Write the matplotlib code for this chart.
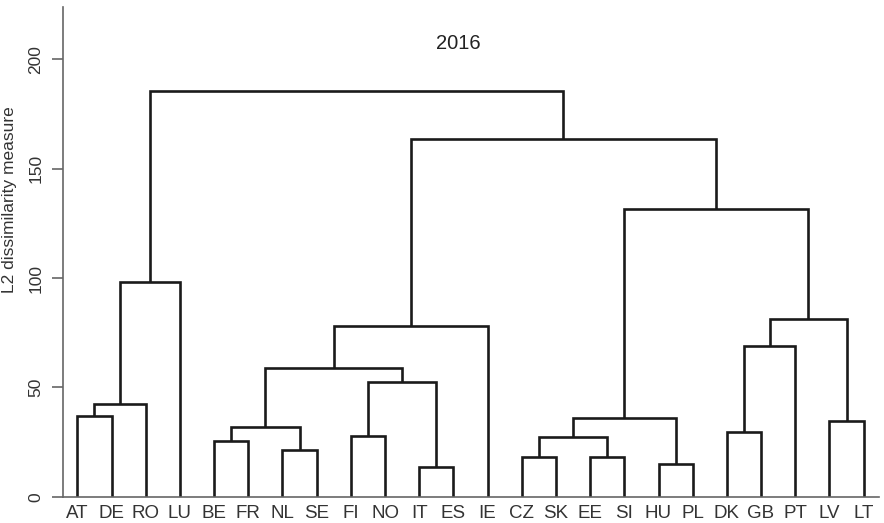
import matplotlib
matplotlib.use("Agg")
import matplotlib.pyplot as plt

plt.rcParams["font.family"] = ["Liberation Sans", "DejaVu Sans"]

# countries in leaf order
countries = ["AT", "DE", "RO", "LU", "BE", "FR", "NL", "SE", "FI", "NO", "IT", "ES", "IE",
             "CZ", "SK", "EE", "SI", "HU", "PL", "DK", "GB", "PT", "LV", "LT"]

# merge steps: node ids < 24 are leaves, node 24 + k is the cluster made at step k
merge_left = [0, 24, 25, 4, 6, 27, 8, 10, 30, 29, 33, 13, 15, 35, 17, 37, 19, 40, 22, 41, 39, 34, 26]
merge_right = [1, 2, 3, 5, 7, 28, 9, 11, 31, 32, 12, 14, 16, 36, 18, 38, 20, 21, 23, 42, 43, 44, 45]
merge_height = [36.8, 42.5, 98.3, 25.6, 21.4, 31.9, 27.8, 13.7, 52.6, 59.0, 78.0, 18.0, 18.0,
                27.2, 15.1, 35.8, 29.7, 69.0, 34.5, 81.3, 131.5, 163.4, 185.5]

yticks = [0, 50, 100, 150, 200]


def main():
    n = len(countries)
    xpos = {i: i + 1 for i in range(n)}
    ypos = {i: 0.0 for i in range(n)}

    fig = plt.figure(figsize=(8.84, 5.23), dpi=100)
    ax = fig.add_axes([63 / 884, 26.3 / 523, 816 / 884, 489.4 / 523])

    for k, (a, b, h) in enumerate(zip(merge_left, merge_right, merge_height)):
        xa, xb = xpos[a], xpos[b]
        ax.plot([xa, xa, xb, xb], [ypos[a], h, h, ypos[b]], color="#1a1a1a",
                lw=1.9, solid_joinstyle="miter", solid_capstyle="butt")
        xpos[n + k] = (xa + xb) / 2
        ypos[n + k] = h

    ax.set_xlim(0.58, 24.45)
    ax.set_ylim(0, 223.8)

    for side in ["top", "right"]:
        ax.spines[side].set_visible(False)
    for side in ["left", "bottom"]:
        ax.spines[side].set_color("#666666")
        ax.spines[side].set_linewidth(1.2)

    ax.set_xticks(range(1, n + 1))
    ax.set_xticklabels(countries, fontsize=13.5, color="#333333")
    ax.tick_params(axis="x", length=0, pad=6)

    ax.set_yticks(yticks)
    ax.set_yticklabels([str(t) for t in yticks], rotation=90, va="center",
                       fontsize=12.5, color="#333333")
    ax.tick_params(axis="y", length=8, width=1.2, color="#666666", pad=6)

    ax.set_ylabel("L2 dissimilarity measure", fontsize=12.5, color="#333333")
    ax.yaxis.set_label_coords(-0.0564, 0.606)

    ax.text(0.485, 0.927, "2016", transform=ax.transAxes, ha="center", va="center",
            fontsize=14.5, color="#222222")

    fig.savefig("out.png", dpi=100)
    plt.close(fig)


if __name__ == "__main__":
    main()
